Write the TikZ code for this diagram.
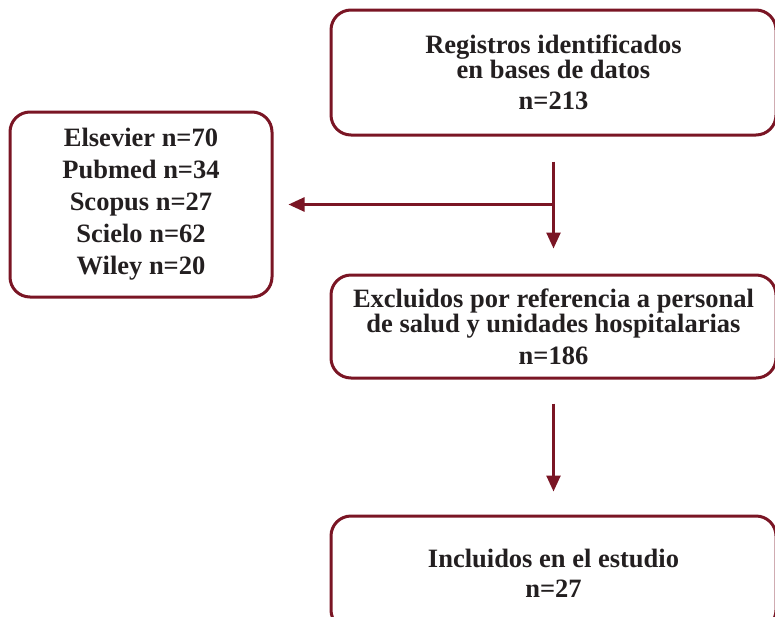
\documentclass[tikz,border=0pt]{standalone}
\usepackage{fontspec}
\setmainfont{Liberation Serif}
\usetikzlibrary{arrows.meta}
\definecolor{vino}{RGB}{122,21,36}
\definecolor{texto}{RGB}{35,31,32}

\begin{document}
\begin{tikzpicture}[x=1pt,y=-1pt,
    caja/.style={draw=vino,line width=3pt,rounded corners=20pt,align=center,text=texto,
      font=\bfseries\fontsize{26.5}{23}\selectfont},
    flecha/.style={draw=vino,line width=2.5pt,-{Triangle[length=16pt,width=14pt]}}]
  \path[use as bounding box,clip] (0,0) rectangle (775,616);

  \node[caja,minimum width=445pt,minimum height=125pt] (reg) at (553.5,72.5)
    {Registros identificados\\en bases de datos\\[8pt]n=213};
  \node[caja,minimum width=262pt,minimum height=185pt,
    font=\bfseries\fontsize{26.5}{32}\selectfont] (bases) at (141,204.5)
    {Elsevier n=70\\Pubmed n=34\\Scopus n=27\\Scielo n=62\\Wiley n=20};
  \node[caja,minimum width=445pt,minimum height=103pt] (excl) at (553.5,326.5)
    {Excluidos por referencia a personal\\de salud y unidades hospitalarias\\[8pt]n=186};
  \node[caja,minimum width=445pt,minimum height=114pt] (incl) at (553.5,573)
    {Incluidos en el estudio\\[7pt]n=27};

  \coordinate (rama) at (reg.south |- bases.east);

  \draw[flecha] ([yshift=-25pt]reg.south) -- ([yshift=25pt]excl.north);
  \draw[flecha] (rama) -- ([xshift=15pt]bases.east);
  \draw[flecha] ([yshift=-24pt]excl.south) -- ([yshift=23pt]incl.north);
\end{tikzpicture}
\end{document}
